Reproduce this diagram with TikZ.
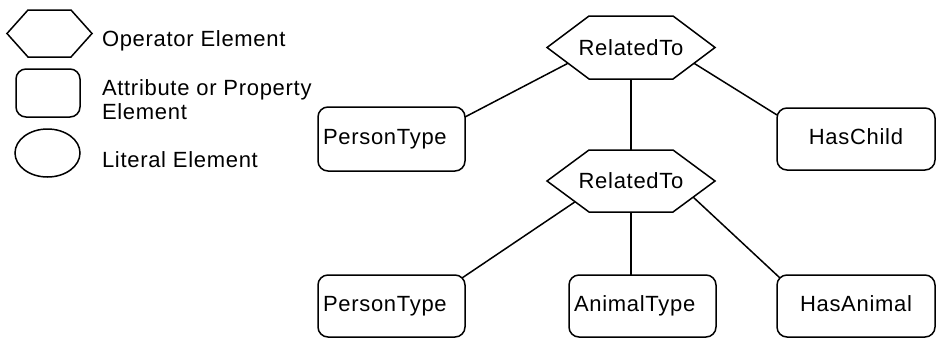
\documentclass[tikz,border=0pt]{standalone}
\usepackage{fontspec}
\setmainfont[LetterSpace=3.2]{Liberation Sans}
\usetikzlibrary{calc,shapes.geometric}
\newcommand\hexdraw[2]{\draw (#1.west) -- ([xshift=#2]#1.north west) -- ([xshift=-#2]#1.north east) -- (#1.east) -- ([xshift=-#2]#1.south east) -- ([xshift=#2]#1.south west) -- cycle;}
\begin{document}
\begin{tikzpicture}[x=1pt,y=-1pt,line width=1.5pt,
  lbl/.style={font=\fontsize{22}{24}\selectfont, inner sep=0pt, outer sep=0pt},
  attrbox/.style={draw, rounded corners=10pt, minimum width=#1, minimum height=62pt,
    inner sep=0pt, outer sep=0pt, font=\fontsize{22}{24}\selectfont, text height=16pt, text depth=5pt},
  leftbox/.style={attrbox=#1, text width=#1-10pt, inner xsep=5pt, align=left},
  hexnode/.style={minimum width=168pt, minimum height=#1, inner sep=0pt, outer sep=0pt,
    font=\fontsize{22}{24}\selectfont},
  conn/.style={draw, line width=1.5pt}]
\useasboundingbox (0,0) rectangle (936,338);
% legend
\node[hexnode=47pt, minimum width=85pt] (lh) at (49.5,33.5) {};
\hexdraw{lh}{21pt}
\node[draw, rounded corners=10pt, minimum width=64pt, minimum height=48pt, inner sep=0pt] (lr) at (48,93) {};
\node[draw, ellipse, minimum width=65pt, minimum height=48pt, inner sep=0pt] (le) at (47.5,153) {};
\node[lbl, anchor=base west] (t1) at (102,46) {Operator Element};
\node[lbl, anchor=north west, align=left] (t2) at (102,79.5) {Attribute or Property\\Element};
\node[lbl, anchor=base west] (t3) at (102,167) {Literal Element};
% tree
\node[hexnode=63pt] (rt1) at (631,47.5) {RelatedTo};
\hexdraw{rt1}{42pt}
\node[hexnode=62pt] (rt2) at (631,181) {RelatedTo};
\hexdraw{rt2}{42pt}
\node[leftbox=147pt, minimum height=64pt] (pt1) at (391.5,139) {PersonType};
\node[attrbox=158pt] (hc) at (856,139) {HasChild};
\node[leftbox=147pt] (pt2) at (391.5,306) {PersonType};
\node[leftbox=147pt] (at) at (642.5,306) {AnimalType};
\node[attrbox=158pt] (ha) at (856,306) {HasAnimal};
% connectors
\draw[conn] ($(rt1.west)!0.5!([xshift=42pt]rt1.south west)$) -- ([yshift=-10pt]pt1.north east);
\draw[conn] ($(rt1.east)!0.5!([xshift=-42pt]rt1.south east)$) -- ([yshift=-7pt]hc.north west);
\draw[conn] (rt1.south) -- (rt2.north);
\draw[conn] ($(rt2.west)!0.67!([xshift=42pt]rt2.south west)$) -- ([xshift=-3pt,yshift=-3pt]pt2.north east);
\draw[conn] (rt2.south) -- (rt2.south |- at.north);
\draw[conn] ($(rt2.east)!0.52!([xshift=-42pt]rt2.south east)$) -- ([xshift=3pt,yshift=-3pt]ha.north west);
\end{tikzpicture}
\end{document}
